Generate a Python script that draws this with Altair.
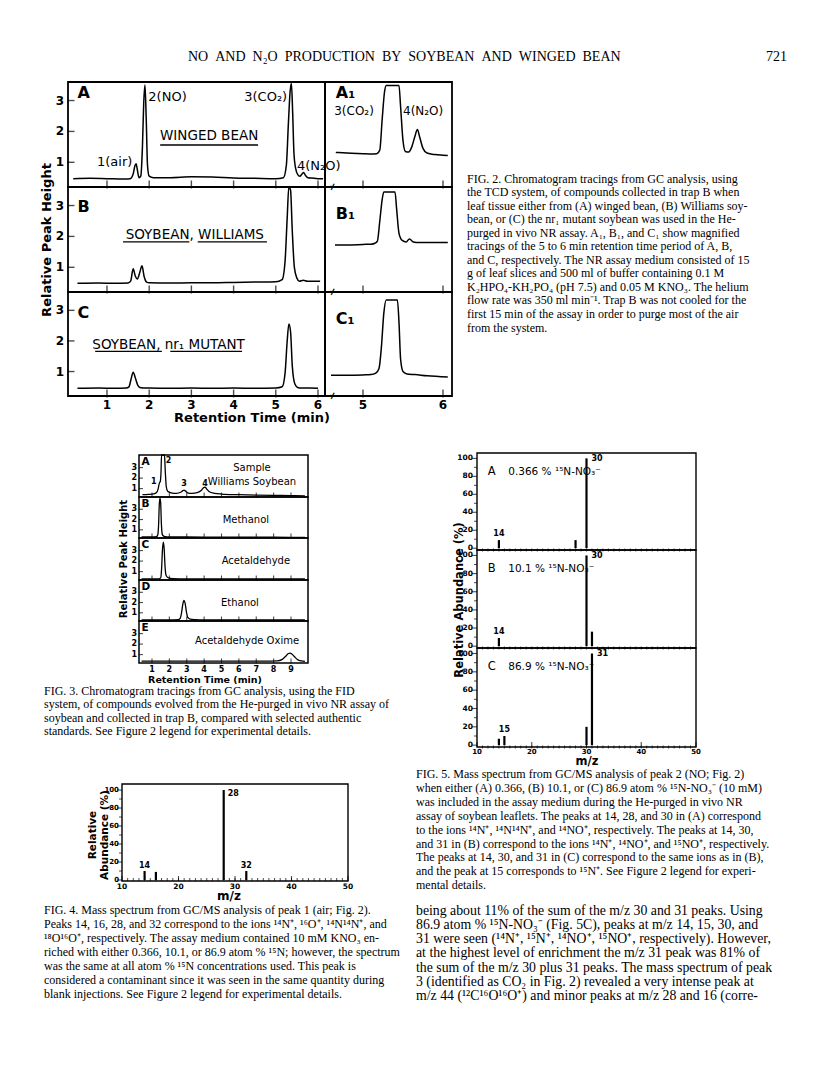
import altair as alt
import pandas as pd

# ===================== DATA =====================
HEADER = "NO\u2002AND\u2002N₂O\u2002PRODUCTION\u2002BY\u2002SOYBEAN\u2002AND\u2002WINGED\u2002BEAN"
PAGE_NO = "721"

# ---- Fig. 2 : TCD chromatograms (retention time, relative peak height)
F2A_T = [0.2, 0.6, 1.0, 1.4, 1.55, 1.62, 1.66, 1.69, 1.72, 1.76, 1.80, 1.84, 1.87, 1.90, 1.93, 1.96, 2.0, 2.1, 2.5, 3.0,
         3.5, 4.0, 4.5, 5.0, 5.18, 5.25, 5.30, 5.34, 5.37, 5.40, 5.43, 5.47, 5.52, 5.57, 5.62, 5.66, 5.70, 5.76, 5.85, 6.0, 6.12]
F2A_H = [0.47, 0.48, 0.47, 0.46, 0.47, 0.62, 0.88, 0.95, 0.75, 0.50, 0.55, 1.5, 2.9, 3.5, 2.4, 0.9, 0.55, 0.5, 0.5, 0.53,
         0.52, 0.49, 0.48, 0.47, 0.5, 0.9, 2.3, 3.3, 3.55, 2.6, 1.3, 0.8, 0.6, 0.55, 0.62, 0.67, 0.58, 0.5, 0.49, 0.47, 0.47]
F2B_T = [0.3, 0.8, 1.2, 1.5, 1.56, 1.62, 1.67, 1.72, 1.78, 1.83, 1.88, 1.94, 2.0, 2.5, 3.0, 3.5, 4.0, 4.5, 5.0, 5.15,
         5.22, 5.27, 5.31, 5.35, 5.39, 5.44, 5.5, 5.56, 5.65, 5.75, 5.9, 6.05]
F2B_H = [0.48, 0.49, 0.48, 0.49, 0.55, 0.95, 0.72, 0.62, 0.85, 1.05, 0.7, 0.52, 0.5, 0.49, 0.5, 0.5, 0.51, 0.52, 0.53, 0.6,
         1.2, 2.6, 3.62, 3.5, 2.2, 1.0, 0.65, 0.55, 0.58, 0.55, 0.55, 0.55]
F2C_T = [0.3, 0.8, 1.2, 1.45, 1.52, 1.57, 1.62, 1.67, 1.73, 1.8, 2.0, 2.5, 3.0, 3.5, 4.0, 4.5, 5.0, 5.15, 5.22, 5.27,
         5.31, 5.35, 5.39, 5.45, 5.52, 5.6, 5.8, 6.0]
F2C_H = [0.45, 0.46, 0.45, 0.46, 0.5, 0.75, 0.98, 0.8, 0.55, 0.47, 0.46, 0.45, 0.46, 0.45, 0.46, 0.45, 0.46, 0.5, 0.95, 2.0,
         2.55, 2.3, 1.2, 0.6, 0.48, 0.46, 0.46, 0.45]
F2A1_T = [4.66, 4.8, 5.0, 5.1, 5.17, 5.21, 5.24, 5.27, 5.29, 5.45, 5.47, 5.5, 5.53, 5.57, 5.61, 5.65, 5.68, 5.71, 5.75,
          5.8, 5.9, 6.0, 6.06]
F2A1_H = [1.32, 1.3, 1.28, 1.27, 1.28, 1.4, 2.4, 3.3, 3.49, 3.49, 2.8, 1.7, 1.35, 1.33, 1.5, 1.85, 2.06, 1.8, 1.45,
          1.3, 1.25, 1.23, 1.22]
F2B1_T = [4.65, 4.8, 5.0, 5.1, 5.15, 5.18, 5.21, 5.24, 5.26, 5.40, 5.42, 5.45, 5.49, 5.54, 5.58, 5.63, 5.7, 5.85, 6.06]
F2B1_H = [1.72, 1.72, 1.74, 1.75, 1.78, 1.85, 2.5, 3.2, 3.44, 3.44, 2.9, 2.1, 1.87, 1.82, 1.92, 1.82, 1.8, 1.8, 1.8]
F2C1_T = [4.6, 4.8, 5.0, 5.1, 5.16, 5.2, 5.23, 5.26, 5.29, 5.43, 5.45, 5.47, 5.5, 5.55, 5.65, 5.8, 6.06]
F2C1_H = [0.88, 0.88, 0.89, 0.9, 0.95, 1.1, 1.8, 2.9, 3.34, 3.34, 2.6, 1.4, 1.0, 0.92, 0.9, 0.86, 0.82]
F2_XTICKS = [1, 2, 3, 4, 5, 6]
F2_RTICKS = [5, 6]
F2_YTICKS = [1, 2, 3]

# ---- Fig. 3 : FID chromatograms
F3A_T = [0.45, 0.8, 1.1, 1.25, 1.35, 1.42, 1.48, 1.52, 1.55, 1.72, 1.76, 1.82, 1.9, 2.1, 2.4, 2.65, 2.78, 2.85, 2.92,
         3.05, 3.3, 3.6, 3.85, 3.98, 4.05, 4.13, 4.3, 4.6, 5.0, 6.0, 7.0, 8.0, 9.0, 9.8]
F3A_H = [0.42, 0.45, 0.5, 0.6, 0.95, 1.5, 1.7, 2.6, 4.2, 4.2, 2.8, 1.2, 0.75, 0.6, 0.55, 0.65, 0.8, 0.85, 0.78,
         0.6, 0.55, 0.62, 0.85, 1.1, 1.15, 1.0, 0.7, 0.55, 0.48, 0.42, 0.38, 0.35, 0.33, 0.3]
F3B_T = [0.4, 1.0, 1.25, 1.33, 1.38, 1.42, 1.46, 1.5, 1.54, 1.6, 1.7, 2.0, 3.0, 5.0, 7.0, 9.0, 9.8]
F3B_H = [0.3, 0.3, 0.32, 0.5, 1.5, 3.5, 4.1, 3.6, 1.6, 0.5, 0.35, 0.3, 0.3, 0.28, 0.28, 0.27, 0.27]
F3C_T = [0.4, 1.0, 1.4, 1.5, 1.55, 1.6, 1.65, 1.7, 1.75, 1.82, 1.95, 2.2, 3.0, 5.0, 7.0, 9.0, 9.8]
F3C_H = [0.3, 0.3, 0.31, 0.4, 1.2, 3.0, 3.8, 3.2, 1.5, 0.6, 0.4, 0.33, 0.3, 0.3, 0.3, 0.3, 0.3]
F3D_T = [0.4, 1.0, 2.0, 2.5, 2.62, 2.7, 2.77, 2.84, 2.91, 2.98, 3.06, 3.2, 3.5, 4.0, 6.0, 8.0, 9.8]
F3D_H = [0.3, 0.3, 0.3, 0.32, 0.45, 1.0, 1.8, 2.2, 1.9, 1.1, 0.55, 0.38, 0.33, 0.3, 0.3, 0.3, 0.3]
F3E_T = [0.4, 2.0, 4.0, 6.0, 7.5, 8.2, 8.5, 8.7, 8.85, 8.95, 9.05, 9.2, 9.4, 9.6, 9.8]
F3E_H = [0.38, 0.38, 0.38, 0.38, 0.38, 0.4, 0.55, 0.85, 1.1, 1.15, 1.05, 0.8, 0.5, 0.4, 0.36]
F3_LETTERS = ["A", "B", "C", "D", "E"]
F3_NAMES = [["Sample", "Williams Soybean"], ["Methanol"], ["Acetaldehyde"], ["Ethanol"], ["Acetaldehyde Oxime"]]
F3_XTICKS = [1, 2, 3, 4, 5, 6, 7, 8, 9]

# ---- Fig. 4 : mass spectrum of peak 1
F4_MZ = [14, 16, 28, 32]
F4_AB = [10, 9, 100, 10]

# ---- Fig. 5 : mass spectra of peak 2
F5A_MZ = [14, 28, 30]
F5A_AB = [9, 9, 100]
F5B_MZ = [14, 30, 31]
F5B_AB = [9, 100, 16]
F5C_MZ = [14, 15, 30, 31]
F5C_AB = [7, 10, 20, 100]
F5_LETTERS = ["A", "B", "C"]
F5_ENRICH = ["0.366 % ¹⁵N-NO₃⁻", "10.1 % ¹⁵N-NO₃⁻", "86.9 % ¹⁵N-NO₃⁻"]
MS_XTICKS = [10, 20, 30, 40, 50]
MS_YTICKS = [0, 20, 40, 60, 80, 100]
MS_YMINOR = [10, 30, 50, 70, 90]

# ---- Text
CAP2 = ["\u2003FIG. 2. Chromatogram tracings from GC analysis, using",
        "the TCD system, of compounds collected in trap B when",
        "leaf tissue either from (A) winged bean, (B) Williams soy-",
        "bean, or (C) the nr₁ mutant soybean was used in the He-",
        "purged in vivo NR assay. A₁, B₁, and C₁ show magnified",
        "tracings of the 5 to 6 min retention time period of A, B,",
        "and C, respectively. The NR assay medium consisted of 15",
        "g of leaf slices and 500 ml of buffer containing 0.1 M",
        "K₂HPO₄-KH₂PO₄ (pH 7.5) and 0.05 M KNO₃. The helium",
        "flow rate was 350 ml min⁻¹. Trap B was not cooled for the",
        "first 15 min of the assay in order to purge most of the air",
        "from the system."]
CAP3 = ["\u2003FIG. 3. Chromatogram tracings from GC analysis, using the FID",
        "system, of compounds evolved from the He-purged in vivo NR assay of",
        "soybean and collected in trap B, compared with selected authentic",
        "standards. See Figure 2 legend for experimental details."]
CAP4 = ["\u2003FIG. 4. Mass spectrum from GC/MS analysis of peak 1 (air; Fig. 2).",
        "Peaks 14, 16, 28, and 32 correspond to the ions ¹⁴N⁺, ¹⁶O⁺, ¹⁴N¹⁴N⁺, and",
        "¹⁸O¹⁶O⁺, respectively. The assay medium contained 10 mM KNO₃ en-",
        "riched with either 0.366, 10.1, or 86.9 atom % ¹⁵N; however, the spectrum",
        "was the same at all atom % ¹⁵N concentrations used. This peak is",
        "considered a contaminant since it was seen in the same quantity during",
        "blank injections. See Figure 2 legend for experimental details."]
CAP5 = ["\u2003FIG. 5. Mass spectrum from GC/MS analysis of peak 2 (NO; Fig. 2)",
        "when either (A) 0.366, (B) 10.1, or (C) 86.9 atom % ¹⁵N-NO₃⁻ (10 mM)",
        "was included in the assay medium during the He-purged in vivo NR",
        "assay of soybean leaflets. The peaks at 14, 28, and 30 in (A) correspond",
        "to the ions ¹⁴N⁺, ¹⁴N¹⁴N⁺, and ¹⁴NO⁺, respectively. The peaks at 14, 30,",
        "and 31 in (B) correspond to the ions ¹⁴N⁺, ¹⁴NO⁺, and ¹⁵NO⁺, respectively.",
        "The peaks at 14, 30, and 31 in (C) correspond to the same ions as in (B),",
        "and the peak at 15 corresponds to ¹⁵N⁺. See Figure 2 legend for experi-",
        "mental details."]
BODY = ["being about 11% of the sum of the m/z 30 and 31 peaks. Using",
        "86.9 atom % ¹⁵N-NO₃⁻ (Fig. 5C), peaks at m/z 14, 15, 30, and",
        "31 were seen (¹⁴N⁺, ¹⁵N⁺, ¹⁴NO⁺, ¹⁵NO⁺, respectively). However,",
        "at the highest level of enrichment the m/z 31 peak was 81% of",
        "the sum of the m/z 30 plus 31 peaks. The mass spectrum of peak",
        "3 (identified as CO₂ in Fig. 2) revealed a very intense peak at",
        "m/z 44 (¹²C¹⁶O¹⁶O⁺) and minor peaks at m/z 28 and 16 (corre-"]

# ===================== LAYOUT / HELPERS =====================
M = 8                      # page margin
SERIF = "Liberation Serif"
SANS = "DejaVu Sans"
L = []


def panel(xd, xpx, yd, ypx):
    return dict(xd=xd, yd=yd,
                xs=alt.Scale(domain=xd, range=[xpx[0] - M, xpx[1] - M], nice=False, zero=False),
                ys=alt.Scale(domain=yd, range=[ypx[1] - M, ypx[0] - M], nice=False, zero=False))


def enc(p):
    return dict(x=alt.X("x:Q", scale=p["xs"], axis=None), y=alt.Y("y:Q", scale=p["ys"], axis=None))


def trace(p, xs, ys, w=1.4):
    L.append(alt.Chart(pd.DataFrame({"x": xs, "y": ys})).mark_line(
        color="black", strokeWidth=w, interpolate="monotone").encode(**enc(p)))


def frame(p, w=1.6):
    df = pd.DataFrame({"x": [p["xd"][0]], "xe": [p["xd"][1]], "y": [p["yd"][0]], "ye": [p["yd"][1]]})
    L.append(alt.Chart(df).mark_rect(fill="white", fillOpacity=0, stroke="black", strokeWidth=w).encode(
        **enc(p), x2=alt.X2("xe"), y2=alt.Y2("ye")))


def ticks(p, xs, ys, orient, size, off=0, w=1.2):
    df = pd.DataFrame({"x": xs, "y": ys})
    kw = {"yOffset": off} if orient == "vertical" else {"xOffset": off}
    L.append(alt.Chart(df).mark_tick(orient=orient, size=size, thickness=w, color="black", **kw).encode(**enc(p)))


def labels(p, xs, ys, ts, **kw):
    df = pd.DataFrame({"x": xs, "y": ys, "t": ts})
    kw.setdefault("font", SANS)
    kw.setdefault("color", "black")
    L.append(alt.Chart(df).mark_text(**kw).encode(**enc(p), text="t:N"))


def rule(p, x0, x1, y, w=1.3):
    df = pd.DataFrame({"x": [x0], "xe": [x1], "y": [y]})
    L.append(alt.Chart(df).mark_rule(color="black", strokeWidth=w).encode(**enc(p), x2=alt.X2("xe")))


def bars(p, mz, ab, w=2.2):
    df = pd.DataFrame({"x": mz, "y": [0] * len(mz), "ye": ab})
    L.append(alt.Chart(df).mark_rule(color="black", strokeWidth=w).encode(**enc(p), y2=alt.Y2("ye")))


def block(lines, x, y, size, lh, font=SERIF, align="left", angle=0, weight="normal"):
    L.append(alt.Chart(pd.DataFrame({"k": [0]})).mark_text(
        text=lines, align=align, baseline="top", lineHeight=lh, font=font, fontSize=size,
        angle=angle, fontWeight=weight, color="black").encode(x=alt.value(x - M), y=alt.value(y - M)))


CAP_FS = 12.0
BODY_FS = 13.8
LEFT_COL = 44
RIGHT_COL = 416

# ---------------- header ----------------
block(HEADER, 188, 50, 14, 15)
block(PAGE_NO, 766, 50, 14, 15)

# ---------------- Fig. 2 ----------------
F2_ROWS = [(82, 187), (187, 292), (292, 396)]
F2_YD = [0.2, 3.6]
f2m = [panel([0.076, 6.166], (68, 325), F2_YD, r) for r in F2_ROWS]
f2r = [panel([4.525, 6.1125], (325, 452), F2_YD, r) for r in F2_ROWS]
for p in f2m + f2r:
    frame(p, 1.8)
for p, t, h in zip(f2m, [F2A_T, F2B_T, F2C_T], [F2A_H, F2B_H, F2C_H]):
    trace(p, t, h, 1.5)
for p, t, h in zip(f2r, [F2A1_T, F2B1_T, F2C1_T], [F2A1_H, F2B1_H, F2C1_H]):
    trace(p, t, h, 1.5)
for p in f2m:
    ticks(p, F2_XTICKS, [F2_YD[0]] * 6, "vertical", 8, -2.5, 1.4)
    ticks(p, [p["xd"][0]] * 3, F2_YTICKS, "horizontal", 7, 3, 1.4)
    labels(p, [p["xd"][0]] * 3, F2_YTICKS, ["1", "2", "3"], align="right", dx=-4, baseline="middle",
           fontSize=12, fontWeight="bold")
for p in f2r:
    ticks(p, F2_RTICKS, [F2_YD[0]] * 2, "vertical", 8, -2.5, 1.4)
    labels(p, [4.62], [F2_YD[0]], ["≁"], fontSize=14, baseline="middle")
labels(f2m[2], F2_XTICKS, [F2_YD[0]] * 6, [str(v) for v in F2_XTICKS], baseline="top", dy=4,
       fontSize=12, fontWeight="bold")
labels(f2r[2], F2_RTICKS, [F2_YD[0]] * 2, [str(v) for v in F2_RTICKS], baseline="top", dy=4,
       fontSize=12, fontWeight="bold")
# panel letters and annotations
labels(f2m[0], [0.3], [3.25], ["A"], align="left", baseline="middle", fontSize=16, fontWeight="bold")
labels(f2m[1], [0.3], [2.95], ["B"], align="left", baseline="middle", fontSize=16, fontWeight="bold")
labels(f2m[2], [0.3], [2.92], ["C"], align="left", baseline="middle", fontSize=16, fontWeight="bold")
labels(f2m[0], [1.6], [1.0], ["1(air)"], align="right", baseline="middle", fontSize=13)
labels(f2m[0], [1.98], [3.1], ["2(NO)"], align="left", baseline="middle", fontSize=13)
labels(f2m[0], [5.27], [3.1], ["3(CO₂)"], align="right", baseline="middle", fontSize=13)
labels(f2m[0], [5.5], [0.87], ["4(N₂O)"], align="left", baseline="middle", fontSize=13)
labels(f2m[0], [3.42], [1.85], ["WINGED BEAN"], align="center", baseline="middle", fontSize=13.5)
rule(f2m[0], 2.26, 4.58, 1.56, 1.3)
labels(f2m[1], [3.08], [2.05], ["SOYBEAN, WILLIAMS"], align="center", baseline="middle", fontSize=13.5)
rule(f2m[1], 1.38, 2.95, 1.82, 1.3)
rule(f2m[1], 3.15, 4.79, 1.82, 1.3)
labels(f2m[2], [2.46], [1.88], ["SOYBEAN, nr₁ MUTANT"], align="center", baseline="middle", fontSize=13.5)
rule(f2m[2], 0.72, 2.3, 1.66, 1.3)
rule(f2m[2], 2.5, 4.2, 1.66, 1.3)
labels(f2r[0], [4.66], [3.25], ["A₁"], align="left", baseline="middle", fontSize=16, fontWeight="bold")
labels(f2r[0], [4.64], [2.66], ["3(CO₂)"], align="left", baseline="middle", fontSize=12)
labels(f2r[0], [5.5], [2.66], ["4(N₂O)"], align="left", baseline="middle", fontSize=12)
labels(f2r[1], [4.66], [2.73], ["B₁"], align="left", baseline="middle", fontSize=16, fontWeight="bold")
labels(f2r[2], [4.66], [2.73], ["C₁"], align="left", baseline="middle", fontSize=16, fontWeight="bold")
block("Relative Peak Height", 41, 240, 13, 14, font=SANS, align="center", angle=270, weight="bold")
block("Retention Time (min)", 252, 412, 13, 14, font=SANS, align="center", weight="bold")
block(CAP2, 467, 173.5, CAP_FS, 13.55)

# ---------------- Fig. 3 ----------------
F3_ROWS = [(455, 497), (497, 538), (538, 580), (580, 621), (621, 663)]
F3_YD = [0.2, 4.2]
f3 = [panel([0.252, 9.978], (139, 308), F3_YD, r) for r in F3_ROWS]
for p in f3:
    frame(p, 1.5)
for p, t, h in zip(f3, [F3A_T, F3B_T, F3C_T, F3D_T, F3E_T], [F3A_H, F3B_H, F3C_H, F3D_H, F3E_H]):
    trace(p, t, h, 1.3)
for p, let in zip(f3, F3_LETTERS):
    ticks(p, F3_XTICKS, [F3_YD[0]] * 9, "vertical", 5, -2, 1.1)
    ticks(p, [p["xd"][0]] * 3, F2_YTICKS, "horizontal", 4, 2, 1.1)
    labels(p, [p["xd"][0]] * 3, F2_YTICKS, ["1", "2", "3"], align="right", dx=-2, baseline="middle",
           fontSize=8, fontWeight="bold")
    labels(p, [0.4], [3.5], [let], align="left", baseline="middle", fontSize=10.5, fontWeight="bold")
labels(f3[4], F3_XTICKS, [F3_YD[0]] * 9, [str(v) for v in F3_XTICKS], baseline="top", dy=3,
       fontSize=8, fontWeight="bold")
labels(f3[0], [1.1, 1.95, 2.84, 4.05], [1.65, 3.6, 1.45, 1.4], ["1", "2", "3", "4"], align="center",
       baseline="middle", fontSize=8, fontWeight="bold")
labels(f3[0], [6.75, 6.75], [3.0, 1.65], F3_NAMES[0], align="center", baseline="middle", fontSize=10)
labels(f3[1], [6.4], [1.95], F3_NAMES[1], align="center", baseline="middle", fontSize=10)
labels(f3[2], [6.98], [2.0], F3_NAMES[2], align="center", baseline="middle", fontSize=10)
labels(f3[3], [6.06], [1.95], F3_NAMES[3], align="center", baseline="middle", fontSize=10)
labels(f3[4], [6.47], [2.3], F3_NAMES[4], align="center", baseline="middle", fontSize=10)
block("Relative Peak Height", 119, 559, 10, 11, font=SANS, align="center", angle=270, weight="bold")
block("Retention Time (min)", 205, 675, 9.5, 11, font=SANS, align="center", weight="bold")
block(CAP3, LEFT_COL, 685.5, CAP_FS, 13.5)

# ---------------- Fig. 4 ----------------
f4 = panel([10, 50], (122, 348), [-1.1, 106.7], (784, 881))
frame(f4, 1.4)
bars(f4, F4_MZ, F4_AB, 2.2)
ticks(f4, [10] * 6, MS_YTICKS, "horizontal", 5, -2.5, 1.1)
ticks(f4, [10] * 5, MS_YMINOR, "horizontal", 3, -1.5, 1.0)
labels(f4, [10] * 6, MS_YTICKS, [str(v) for v in MS_YTICKS], align="right", dx=-3, baseline="middle",
       fontSize=7, fontWeight="bold")
ticks(f4, list(range(11, 50)), [-1.1] * 39, "vertical", 3, -1.5, 1.0)
ticks(f4, MS_XTICKS, [-1.1] * 5, "vertical", 5, -2.5, 1.1)
labels(f4, MS_XTICKS, [-1.1] * 5, [str(v) for v in MS_XTICKS], baseline="top", dy=2, fontSize=7.5,
       fontWeight="bold")
labels(f4, [14, 32], [11, 11], ["14", "32"], align="center", baseline="bottom", fontSize=8, fontWeight="bold")
labels(f4, [28], [96], ["28"], align="left", baseline="middle", dx=4, fontSize=8, fontWeight="bold")
block("Relative", 88, 835, 10.5, 12, font=SANS, align="center", angle=270, weight="bold")
block("Abundance (%)", 100, 835, 10.5, 12, font=SANS, align="center", angle=270, weight="bold")
block("m/z", 229, 891, 12, 13, font=SANS, align="center", weight="bold")
block(CAP4, LEFT_COL, 904.5, CAP_FS, 14.15)

# ---------------- Fig. 5 ----------------
F5_ROWS = [(453, 550), (550, 648), (648, 747)]
F5_YD = [-2, 106]
f5 = [panel([10, 50], (477, 696), F5_YD, r) for r in F5_ROWS]
for p in f5:
    frame(p, 1.4)
for p, mz, ab in zip(f5, [F5A_MZ, F5B_MZ, F5C_MZ], [F5A_AB, F5B_AB, F5C_AB]):
    bars(p, mz, ab, 2.2)
for p, let, en in zip(f5, F5_LETTERS, F5_ENRICH):
    ticks(p, [10] * 6, MS_YTICKS, "horizontal", 5, -2.5, 1.1)
    ticks(p, [10] * 5, MS_YMINOR, "horizontal", 3, -1.5, 1.0)
    labels(p, [10] * 6, MS_YTICKS, [str(v) for v in MS_YTICKS], align="right", dx=-4, baseline="middle",
           fontSize=7.5, fontWeight="bold")
    ticks(p, list(range(11, 50)), [F5_YD[0]] * 39, "vertical", 3, 0, 1.0)
    labels(p, [12.7], [85], [let], align="center", baseline="middle", fontSize=11.5)
    labels(p, [15.7], [85], [en], align="left", baseline="middle", fontSize=10.5)
ticks(f5[2], MS_XTICKS, [F5_YD[0]] * 5, "vertical", 5, -2.5, 1.1)
labels(f5[2], MS_XTICKS, [F5_YD[0]] * 5, [str(v) for v in MS_XTICKS], baseline="top", dy=1, fontSize=7,
       fontWeight="bold")
labels(f5[0], [14], [10], ["14"], align="center", baseline="bottom", dy=-1, fontSize=8, fontWeight="bold")
labels(f5[1], [14], [10], ["14"], align="center", baseline="bottom", dy=-1, fontSize=8, fontWeight="bold")
labels(f5[2], [15], [11], ["15"], align="center", baseline="bottom", dy=-1, fontSize=8, fontWeight="bold")
labels(f5[0], [30], [99], ["30"], align="left", baseline="middle", dx=5, fontSize=8, fontWeight="bold")
labels(f5[1], [30], [99], ["30"], align="left", baseline="middle", dx=5, fontSize=8, fontWeight="bold")
labels(f5[2], [31], [99], ["31"], align="left", baseline="middle", dx=5, fontSize=8, fontWeight="bold")
block("Relative Abundance (%)", 454, 600, 11.5, 13, font=SANS, align="center", angle=270, weight="bold")
block("m/z", 587, 756, 11.5, 12, font=SANS, align="center", weight="bold")
block(CAP5, RIGHT_COL, 769, CAP_FS, 13.9)
block(BODY, RIGHT_COL, 904, BODY_FS, 14.15)

chart = alt.layer(*L).resolve_scale(x="independent", y="independent").properties(
    width=800, height=1057, padding=0, autosize="none").configure_view(strokeWidth=0)

chart.save("out.html", embed_options={"renderer": "svg", "actions": False})
